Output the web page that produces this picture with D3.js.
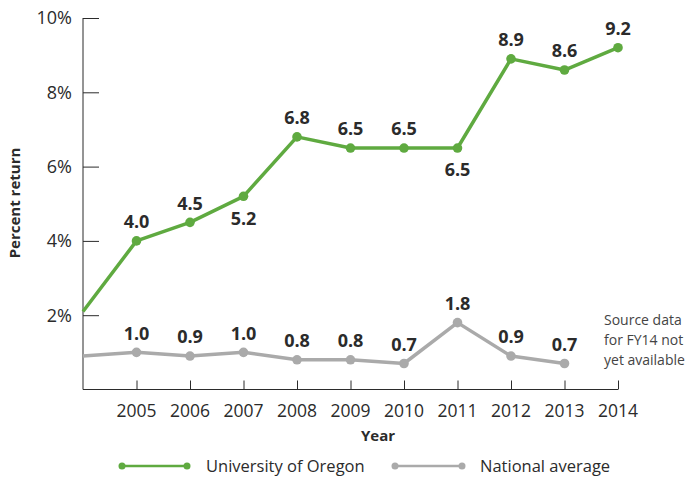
<!DOCTYPE html>
<html>
<head>
<meta charset="utf-8">
<script src="https://cdn.jsdelivr.net/npm/d3@7"></script>
<style>
  body { margin: 0; background: #fff; }
  text { font-family: "Open Sans", sans-serif; }
</style>
</head>
<body>
<script>
// data
var years = [2004, 2005, 2006, 2007, 2008, 2009, 2010, 2011, 2012, 2013, 2014];
var oregon = [2.1, 4.0, 4.5, 5.2, 6.8, 6.5, 6.5, 6.5, 8.9, 8.6, 9.2];
var national = [0.9, 1.0, 0.9, 1.0, 0.8, 0.8, 0.7, 1.8, 0.9, 0.7, null];
// which labels sit under the point
var oregonBelow = [2007, 2011];
var yTicks = [2, 4, 6, 8, 10];
var xTicks = [2005, 2006, 2007, 2008, 2009, 2010, 2011, 2012, 2013, 2014];

var green = "#5faa40", grey = "#aaaaaa", ink = "#2b2b2b";

var svg = d3.select("body").append("svg")
  .attr("width", 690)
  .attr("height", 478);

var x = d3.scaleLinear().domain([2004, 2014]).range([83, 618]);
var y = d3.scaleLinear().domain([0, 10]).range([389.5, 18]);

// y axis
var yAxis = svg.append("g")
  .attr("transform", "translate(83,0)")
  .call(d3.axisRight(y).tickValues(yTicks).tickSize(16).tickFormat(""));
yAxis.select(".domain").attr("d", "M0,18V389.5").attr("stroke", ink);
yAxis.selectAll(".tick line").attr("stroke", ink);

svg.append("g").selectAll("text")
  .data(yTicks)
  .enter()
  .append("text")
  .attr("x", 72)
  .attr("y", function (d) { return y(d); })
  .attr("dy", "0.35em")
  .attr("text-anchor", "end")
  .attr("font-size", 18)
  .attr("fill", ink)
  .text(function (d) { return d + "%"; });

// x axis
var xAxis = svg.append("g")
  .attr("transform", "translate(0,389.5)")
  .call(d3.axisTop(x).tickValues(xTicks).tickSize(9).tickFormat(""));
xAxis.select(".domain").attr("d", "M83,0H618").attr("stroke", ink);
xAxis.selectAll(".tick line").attr("stroke", ink);

svg.append("g").selectAll("text")
  .data(xTicks)
  .enter()
  .append("text")
  .attr("x", function (d) { return x(d); })
  .attr("y", 411)
  .attr("dy", "0.35em")
  .attr("text-anchor", "middle")
  .attr("font-size", 17.5)
  .attr("fill", ink)
  .text(function (d) { return d; });

// axis titles
svg.append("text")
  .attr("x", 378).attr("y", 436).attr("dy", "0.35em")
  .attr("text-anchor", "middle")
  .attr("font-size", 15).attr("font-weight", "bold").attr("fill", ink)
  .text("Year");

svg.append("text")
  .attr("transform", "translate(15,203) rotate(-90)")
  .attr("dy", "0.35em")
  .attr("text-anchor", "middle")
  .attr("font-size", 15).attr("font-weight", "bold").attr("fill", ink)
  .text("Percent return");

// series
function drawSeries(vals, color, below) {
  var pts = years.map(function (yr, i) { return { year: yr, v: vals[i] }; })
    .filter(function (d) { return d.v != null; });
  var line = d3.line()
    .x(function (d) { return x(d.year); })
    .y(function (d) { return y(d.v); });
  svg.append("path")
    .datum(pts)
    .attr("d", line)
    .attr("fill", "none")
    .attr("stroke", color)
    .attr("stroke-width", 3.5)
    .attr("stroke-linejoin", "round");
  var shown = pts.filter(function (d) { return d.year > 2004; });
  svg.append("g").selectAll("circle")
    .data(shown)
    .enter()
    .append("circle")
    .attr("cx", function (d) { return x(d.year); })
    .attr("cy", function (d) { return y(d.v); })
    .attr("r", 4.8)
    .attr("fill", color);
  svg.append("g").selectAll("text")
    .data(shown)
    .enter()
    .append("text")
    .attr("x", function (d) { return x(d.year); })
    .attr("y", function (d) {
      return below.indexOf(d.year) >= 0 ? y(d.v) + 22 : y(d.v) - 19;
    })
    .attr("dy", "0.35em")
    .attr("text-anchor", "middle")
    .attr("font-size", 18)
    .attr("font-weight", "bold")
    .attr("fill", ink)
    .text(function (d) { return d3.format(".1f")(d.v); });
}
drawSeries(oregon, green, oregonBelow);
drawSeries(national, grey, []);

// note
var note = ["Source data", "for FY14 not", "yet available"];
svg.append("g").selectAll("text")
  .data(note)
  .enter()
  .append("text")
  .attr("x", 604)
  .attr("y", function (d, i) { return 320 + i * 20; })
  .attr("dy", "0.35em")
  .attr("font-size", 14)
  .attr("fill", "#444")
  .text(function (d) { return d; });

// legend
var legend = [
  { name: "University of Oregon", color: green, x1: 122, x2: 187, tx: 206 },
  { name: "National average", color: grey, x1: 395, x2: 462, tx: 480 }
];
var lg = svg.append("g").selectAll("g")
  .data(legend)
  .enter()
  .append("g");
lg.append("line")
  .attr("x1", function (d) { return d.x1; })
  .attr("x2", function (d) { return d.x2; })
  .attr("y1", 466).attr("y2", 466)
  .attr("stroke", function (d) { return d.color; })
  .attr("stroke-width", 2.5);
lg.selectAll("circle")
  .data(function (d) { return [{ cx: d.x1, c: d.color }, { cx: d.x2, c: d.color }]; })
  .enter()
  .append("circle")
  .attr("cx", function (d) { return d.cx; })
  .attr("cy", 466)
  .attr("r", 3.5)
  .attr("fill", function (d) { return d.c; });
lg.append("text")
  .attr("x", function (d) { return d.tx; })
  .attr("y", 466)
  .attr("dy", "0.35em")
  .attr("font-size", 16.5)
  .attr("fill", ink)
  .text(function (d) { return d.name; });
</script>
</body>
</html>
